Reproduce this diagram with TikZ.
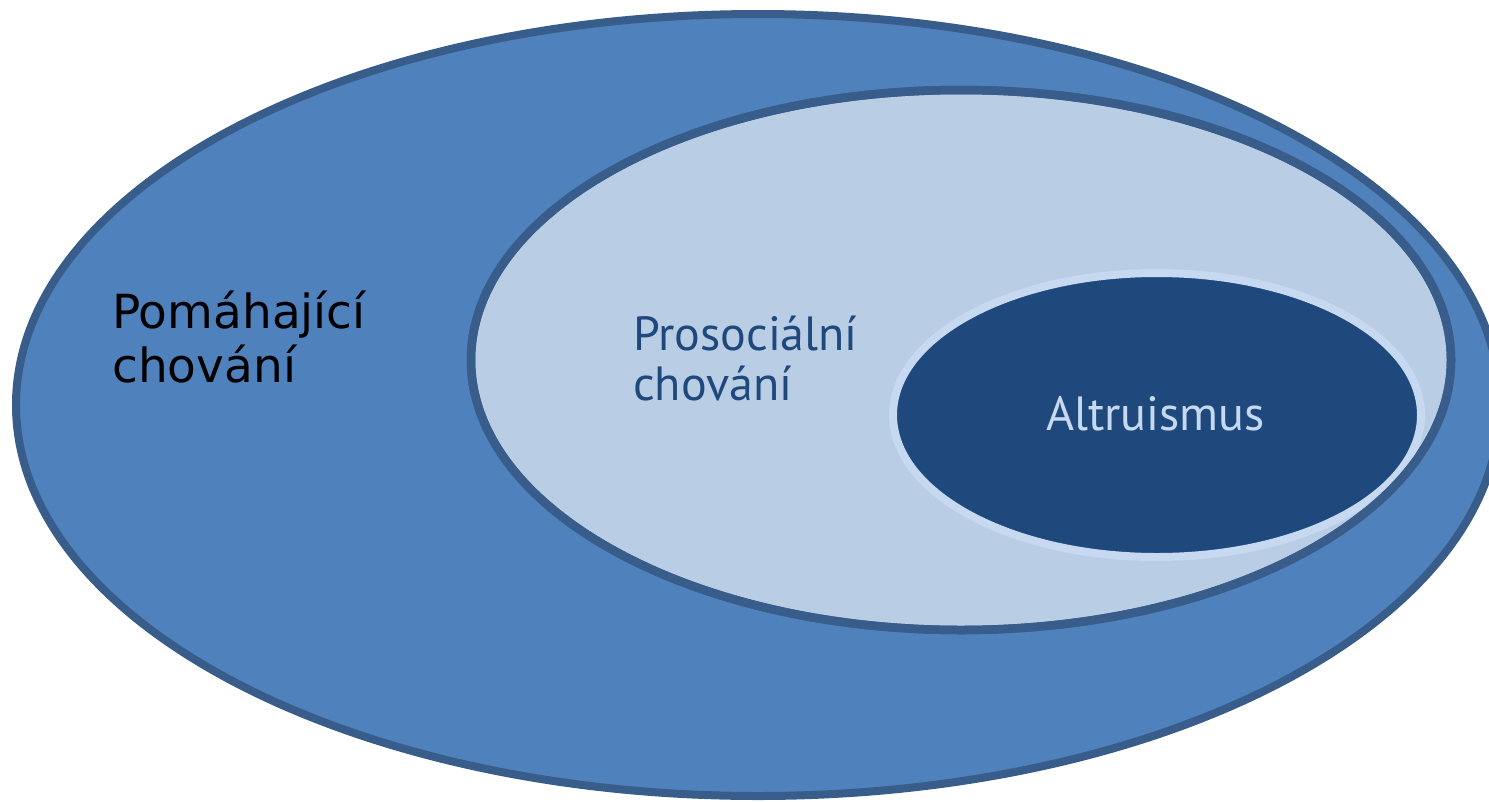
\documentclass[tikz,border=0pt]{standalone}
\usepackage{fontspec}
\setmainfont{DejaVu Sans}
\newfontfamily\lblfontA{DejaVu Sans}
\newfontfamily\lblfontB{PT Sans}
\usetikzlibrary{shapes.geometric}
\definecolor{outerfill}{HTML}{4F81BD}
\definecolor{ringdark}{HTML}{385D8A}
\definecolor{midfill}{HTML}{B9CDE5}
\definecolor{innerfill}{HTML}{1F497D}
\definecolor{innerring}{HTML}{C6D9F1}
\tikzset{
  ell/.style={ellipse, inner sep=0pt, outer sep=0pt},
  lbl/.style={anchor=base west, inner sep=0pt, align=left},
}
\begin{document}
\begin{tikzpicture}[x=1pt,y=-1pt]
\useasboundingbox (0,0) rectangle (1489,801);
\clip (0,0) rectangle (1489,801);
\node[ell, fill=outerfill, draw=ringdark, line width=8pt, minimum width=1484pt, minimum height=782pt] (outer) at (758,405) {};
\node[ell, fill=midfill, draw=ringdark, line width=8.5pt, minimum width=980pt, minimum height=540pt] (middle) at (961,360) {};
\node[ell, fill=innerfill, draw=innerring, line width=8pt, minimum width=528pt, minimum height=284pt] (inner) at (1157,415) {};
\node[ell, draw=ringdark, line width=8.5pt, minimum width=980pt, minimum height=540pt] (middleborder) at (961,360) {};
\node[lbl, font=\lblfontA\fontsize{47}{54}\selectfont, text=black] (help1) at (112,328) {Pomáhající};
\node[lbl, font=\lblfontA\fontsize{47}{54}\selectfont, text=black] (help2) at (112,382) {chování};
\node[lbl, font=\lblfontB\fontsize{48}{50}\selectfont, text=innerfill] (pro1) at (633,350) {Prosociální};
\node[lbl, font=\lblfontB\fontsize{48}{50}\selectfont, text=innerfill] (pro2) at (633,400) {chování};
\node[lbl, font=\lblfontB\fontsize{48}{50}\selectfont, text=innerring] (alt) at (1046,430) {Altruismus};
\end{tikzpicture}
\end{document}
